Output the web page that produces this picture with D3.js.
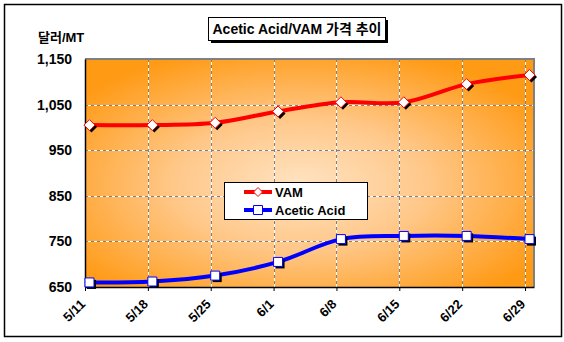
<!DOCTYPE html>
<html>
<head>
<meta charset="utf-8">
<script src="https://cdn.jsdelivr.net/npm/d3@7"></script>
<style>
  body { margin: 0; background: #fff; }
  svg text { font-family: "Liberation Sans", Arial, "Noto Sans CJK KR", sans-serif; font-weight: bold; fill: #000; }
</style>
</head>
<body>
<div id="chart"></div>
<script>
// weekly dates (tick labels) and prices in USD/MT
const dates = ['5/11', '5/18', '5/25', '6/1', '6/8', '6/15', '6/22', '6/29'];
const vam = [1005, 1005, 1010, 1035, 1055, 1055, 1095, 1115];
const aceticAcid = [660, 662, 675, 705, 755, 762, 762, 755];
const yTicks = [650, 750, 850, 950, 1050, 1150];

const width = 564, height = 342;
const plot = { left: 85, right: 534, top: 59, bottom: 287 };

const svg = d3.select('#chart').append('svg')
  .attr('width', width)
  .attr('height', height);

// outer frame
svg.append('rect')
  .attr('x', 4.5).attr('y', 4.5)
  .attr('width', 557).attr('height', 332)
  .attr('fill', '#fff')
  .attr('stroke', '#000')
  .attr('stroke-width', 1.5);

// date axis: days from 5/11, points sit in the middle of their day
const x = d3.scaleLinear().domain([0, 50]).range([plot.left, plot.right]);
const y = d3.scaleLinear().domain([650, 1150]).range([plot.bottom, plot.top]);
const dayOf = i => i * 7;

// plot area gradient
const defs = svg.append('defs');
const grad = defs.append('radialGradient')
  .attr('id', 'bg')
  .attr('cx', '0.48').attr('cy', '0.55').attr('r', '0.62');
grad.append('stop').attr('offset', '0%').attr('stop-color', '#ffe3c2');
grad.append('stop').attr('offset', '45%').attr('stop-color', '#ffc88a');
grad.append('stop').attr('offset', '100%').attr('stop-color', '#ff9a15');

svg.append('rect')
  .attr('x', plot.left).attr('y', plot.top)
  .attr('width', plot.right - plot.left)
  .attr('height', plot.bottom - plot.top)
  .attr('fill', 'url(#bg)');

// gridlines (white under gray dashes)
const g = svg.append('g');
const hLines = yTicks.slice(1, -1);
const vLines = dates.slice(1).map((d, i) => dayOf(i + 1));

['#fff', '#808080'].forEach((c, k) => {
  g.selectAll('.h' + k).data(hLines).enter().append('line')
    .attr('x1', plot.left).attr('x2', plot.right)
    .attr('y1', d => Math.round(y(d)) + 0.5).attr('y2', d => Math.round(y(d)) + 0.5)
    .attr('stroke', c)
    .attr('stroke-dasharray', k ? '3,3' : null);
  g.selectAll('.v' + k).data(vLines).enter().append('line')
    .attr('y1', plot.top).attr('y2', plot.bottom)
    .attr('x1', d => Math.round(x(d)) + 0.5).attr('x2', d => Math.round(x(d)) + 0.5)
    .attr('stroke', c)
    .attr('stroke-dasharray', k ? '3,3' : null);
});

// gray top / right border
svg.append('path')
  .attr('d', `M${plot.left},${plot.top} H${plot.right} V${plot.bottom}`)
  .attr('fill', 'none')
  .attr('stroke', '#808080')
  .attr('stroke-width', 2);

// axes
svg.append('g')
  .attr('transform', `translate(0,${plot.bottom})`)
  .call(d3.axisBottom(x).tickValues(dates.map((d, i) => dayOf(i))).tickFormat('').tickSize(4).tickSizeOuter(0))
  .call(a => a.select('.domain').attr('stroke', '#000').attr('stroke-width', 1.5));

svg.append('g')
  .attr('transform', `translate(${plot.left},0)`)
  .call(d3.axisLeft(y).tickValues(yTicks).tickFormat('').tickSize(0).tickSizeOuter(0))
  .call(a => a.select('.domain').attr('stroke', '#000').attr('stroke-width', 1.5));

// y tick labels
svg.selectAll('.ylab').data(yTicks).enter().append('text')
  .attr('x', 72)
  .attr('y', d => y(d) + 5)
  .attr('text-anchor', 'end')
  .style('font-size', '14px')
  .text(d3.format(','));

// x tick labels, rotated
svg.selectAll('.xlab').data(dates).enter().append('text')
  .attr('transform', (d, i) => `translate(${x(dayOf(i)) + 1},${plot.bottom + 18}) rotate(-45)`)
  .attr('text-anchor', 'end')
  .style('font-size', '13px')
  .text(d => d);

// lines
const line = d3.line()
  .x((d, i) => x(dayOf(i) + 0.5))
  .y(d => y(d))
  .curve(d3.curveCatmullRom.alpha(0));

const series = [
  { name: 'VAM', values: vam, color: '#ff0000', marker: d3.symbolDiamond },
  { name: 'Acetic Acid', values: aceticAcid, color: '#0000ff', marker: d3.symbolSquare }
];

series.forEach(s => {
  svg.append('path')
    .datum(s.values)
    .attr('fill', 'none')
    .attr('stroke', s.color)
    .attr('stroke-width', 4)
    .attr('d', line);
});

function drawMarker(sel, s, cx, cy) {
  const isDiamond = s.marker === d3.symbolDiamond;
  const sym = isDiamond
    ? `M0,-5.5 L5.5,0 L0,5.5 L-5.5,0 Z`
    : `M-4.5,-4.5 H4.5 V4.5 H-4.5 Z`;
  sel.append('path')
    .attr('d', sym)
    .attr('transform', `translate(${cx + 2},${cy + 2})`)
    .attr('fill', '#000');
  sel.append('path')
    .attr('d', sym)
    .attr('transform', `translate(${cx},${cy})`)
    .attr('fill', '#fff')
    .attr('stroke', s.color)
    .attr('stroke-width', 1);
}

series.forEach(s => {
  const mg = svg.append('g');
  s.values.forEach((v, i) => drawMarker(mg, s, x(dayOf(i) + 0.5), y(v)));
});

// legend
const lg = svg.append('g').attr('transform', 'translate(224,182)');
lg.append('rect')
  .attr('x', 0.5).attr('y', 0.5)
  .attr('width', 143).attr('height', 37)
  .attr('fill', '#fff')
  .attr('stroke', '#000');
series.forEach((s, i) => {
  const ly = 10 + i * 18;
  lg.append('line')
    .attr('x1', 20).attr('x2', 48)
    .attr('y1', ly).attr('y2', ly)
    .attr('stroke', s.color)
    .attr('stroke-width', 4);
  const sym = s.marker === d3.symbolDiamond
    ? `M0,-4.5 L4.5,0 L0,4.5 L-4.5,0 Z`
    : `M-4.5,-4.5 H4.5 V4.5 H-4.5 Z`;
  lg.append('path')
    .attr('d', sym)
    .attr('transform', `translate(34,${ly})`)
    .attr('fill', '#fff')
    .attr('stroke', s.color);
  lg.append('text')
    .attr('x', 51)
    .attr('y', ly + 5)
    .style('font-size', '13px')
    .text(s.name);
});

// title box with shadow
svg.append('rect')
  .attr('x', 211).attr('y', 20)
  .attr('width', 177).attr('height', 23)
  .attr('fill', '#000');
svg.append('rect')
  .attr('x', 208.5).attr('y', 17.5)
  .attr('width', 177).attr('height', 23)
  .attr('fill', '#fff')
  .attr('stroke', '#000');
svg.append('text')
  .attr('x', 297)
  .attr('y', 34)
  .attr('text-anchor', 'middle')
  .style('font-size', '14px')
  .text('Acetic Acid/VAM 가격 추이');

// y axis unit
svg.append('text')
  .attr('x', 38)
  .attr('y', 42)
  .style('font-size', '13px')
  .text('달러/MT');
</script>
</body>
</html>
